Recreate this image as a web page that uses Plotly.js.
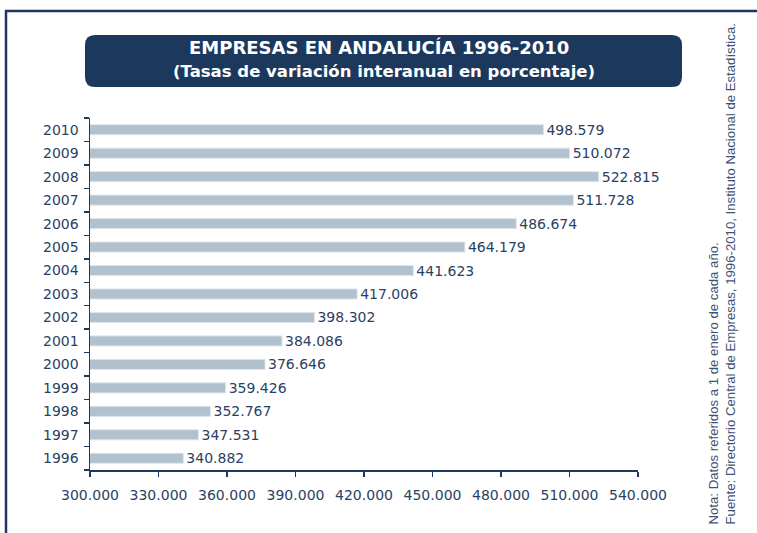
<!DOCTYPE html>
<html>
<head>
<meta charset="utf-8">
<script src="https://cdn.plot.ly/plotly-3.0.1.min.js"></script>
<style>
  html, body { margin: 0; padding: 0; background: #ffffff; }
  #chart { width: 757px; height: 533px; }
</style>
</head>
<body>
<div id="chart"></div>
<script>
// ---- Data ----
const years = ['1996','1997','1998','1999','2000','2001','2002','2003','2004','2005','2006','2007','2008','2009','2010'];
const empresas = [340882, 347531, 352767, 359426, 376646, 384086, 398302, 417006, 441623, 464179, 486674, 511728, 522815, 510072, 498579];
const titleLine1 = 'EMPRESAS EN ANDALUCÍA 1996-2010';
const titleLine2 = '(Tasas de variación interanual en porcentaje)';
const noteText = 'Nota: Datos referidos a 1 de enero de cada año.';
const sourceText = 'Fuente: Directorio Central de Empresas, 1996-2010, Instituto Nacional de Estadística.';

// ---- Layout geometry ----
const W = 757, H = 533;
const M = { l: 90, r: 119, t: 118, b: 63 };
const PW = W - M.l - M.r, PH = H - M.t - M.b;
const px = v => (v - M.l) / PW;          // pixel x -> paper x
const py = v => (H - M.b - v) / PH;      // pixel y -> paper y

const navy = '#1c395d';
const textCol = '#2a3f62';
const barCol = '#b2c1ce';

function roundRect(x0p, y0p, x1p, y1p, r) {
  const x0 = px(x0p), x1 = px(x1p), yt = py(y0p), yb = py(y1p);
  const rx = r / PW, ry = r / PH;
  return `M${x0+rx},${yt} L${x1-rx},${yt} Q${x1},${yt} ${x1},${yt-ry} ` +
         `L${x1},${yb+ry} Q${x1},${yb} ${x1-rx},${yb} L${x0+rx},${yb} ` +
         `Q${x0},${yb} ${x0},${yb+ry} L${x0},${yt-ry} Q${x0},${yt} ${x0+rx},${yt} Z`;
}

const trace = {
  type: 'bar',
  orientation: 'h',
  y: years,
  x: empresas,
  marker: { color: barCol, line: { color: '#dfe5eb', width: 1 } },
  texttemplate: '%{x:,d}',
  textposition: 'outside',
  constraintext: 'none',
  cliponaxis: false,
  textfont: { family: 'DejaVu Sans', size: 14, color: textCol },
  hoverinfo: 'skip'
};

const layout = {
  width: W, height: H,
  margin: M,
  paper_bgcolor: '#ffffff',
  plot_bgcolor: '#ffffff',
  separators: ',.',
  showlegend: false,
  bargap: 0.57,
  font: { family: 'DejaVu Sans', size: 14, color: textCol },
  xaxis: {
    range: [300000, 540000],
    tick0: 300000, dtick: 30000,
    tickformat: ',d',
    showgrid: false, zeroline: false,
    showline: true, linecolor: navy, linewidth: 1.5,
    ticks: 'outside', ticklen: 5, tickcolor: navy, tickwidth: 1.5,
    ticklabelstandoff: 7,
    tickfont: { family: 'DejaVu Sans', size: 14, color: textCol },
    fixedrange: true
  },
  yaxis: {
    type: 'category',
    showgrid: false, zeroline: false,
    showline: true, linecolor: navy, linewidth: 1.5,
    ticks: 'outside', ticklen: 5, tickcolor: navy, tickwidth: 1.5,
    tickson: 'boundaries',
    ticklabelstandoff: 7,
    tickfont: { family: 'DejaVu Sans', size: 14, color: textCol },
    fixedrange: true
  },
  shapes: [
    { type: 'path', xref: 'paper', yref: 'paper',
      path: `M${px(6)},${py(545)} L${px(6)},${py(11)} L${px(770)},${py(11)}`,
      line: { color: navy, width: 2.5 } },
    { type: 'path', xref: 'paper', yref: 'paper',
      path: roundRect(85, 35, 682, 87, 10),
      fillcolor: navy, line: { color: navy, width: 0 } }
  ],
  annotations: [
    { xref: 'paper', yref: 'paper', x: px(379), y: py(48), xanchor: 'center', yanchor: 'middle',
      text: '<b>' + titleLine1 + '</b>', showarrow: false,
      font: { family: 'DejaVu Sans', size: 18, color: '#ffffff' } },
    { xref: 'paper', yref: 'paper', x: px(384), y: py(71), xanchor: 'center', yanchor: 'middle',
      text: '<b>' + titleLine2 + '</b>', showarrow: false,
      font: { family: 'DejaVu Sans', size: 16.5, color: '#ffffff' } },
    { xref: 'paper', yref: 'paper', x: px(721), y: py(527), xanchor: 'center', yanchor: 'bottom',
      text: noteText + '<br>' + sourceText, showarrow: false, textangle: -90, align: 'left',
      font: { family: 'Liberation Sans', size: 13.2, color: '#3d5273' } }
  ]
};

Plotly.newPlot('chart', [trace], layout, { displayModeBar: false, staticPlot: true });
</script>
</body>
</html>
